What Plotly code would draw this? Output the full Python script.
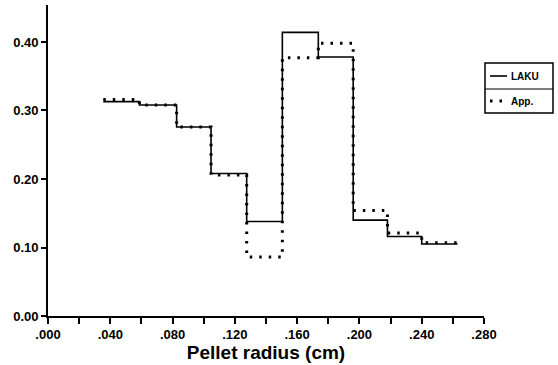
import plotly.graph_objects as go

# Step boundaries (cm) and values
edges = [0.0355, 0.0587, 0.0826, 0.1047, 0.1276, 0.1505, 0.1736, 0.1960, 0.2180, 0.2400, 0.2630]
laku = [0.313, 0.308, 0.276, 0.208, 0.138, 0.414, 0.378, 0.140, 0.116, 0.105]
app = [0.316, 0.308, 0.276, 0.206, 0.086, 0.377, 0.398, 0.154, 0.121, 0.107]

x_tickvals = [0.0, 0.04, 0.08, 0.12, 0.16, 0.20, 0.24, 0.28]
x_ticktext = [".000", ".040", ".080", ".120", ".160", ".200", ".240", ".280"]
y_tickvals = [0.0, 0.1, 0.2, 0.3, 0.4]
y_ticktext = ["0.00", "0.10", "0.20", "0.30", "0.40"]

font_family = "Liberation Sans, Arial, sans-serif"

fig = go.Figure()
fig.add_trace(go.Scatter(
    x=edges, y=laku + [laku[-1]], mode="lines", line_shape="hv",
    line=dict(color="black", width=1.6), name="LAKU", showlegend=False))
fig.add_trace(go.Scatter(
    x=edges, y=app + [app[-1]], mode="lines", line_shape="hv",
    line=dict(color="black", width=3, dash="2.5px,7px"), name="App.", showlegend=False))

# Manual legend box (paper coords)
def px_x(p):
    return (p - 48) / (484 - 48)

def px_y(p):
    return (316 - p) / (316 - 5)

lx0, lx1, ly0, ly1, lyd = px_x(485), px_x(553), px_y(63), px_y(113), px_y(89)
fig.add_shape(type="rect", xref="paper", yref="paper", x0=lx0, x1=lx1, y0=ly1, y1=ly0,
              line=dict(color="black", width=1.5))
fig.add_shape(type="line", xref="paper", yref="paper", x0=lx0, x1=lx1, y0=lyd, y1=lyd,
              line=dict(color="black", width=1))
fig.add_shape(type="line", xref="paper", yref="paper", x0=px_x(490), x1=px_x(507),
              y0=px_y(76), y1=px_y(76), line=dict(color="black", width=1.6))
fig.add_shape(type="line", xref="paper", yref="paper", x0=px_x(490), x1=px_x(505),
              y0=px_y(101), y1=px_y(101), line=dict(color="black", width=3, dash="2.5px,7px"))
fig.add_annotation(xref="paper", yref="paper", x=px_x(509), y=px_y(76), text="LAKU",
                   showarrow=False, xanchor="left", yanchor="middle",
                   font=dict(family=font_family, size=10, color="black", weight="bold"))
fig.add_annotation(xref="paper", yref="paper", x=px_x(509), y=px_y(101), text="App.",
                   showarrow=False, xanchor="left", yanchor="middle",
                   font=dict(family=font_family, size=10, color="black", weight="bold"))

fig.update_layout(
    width=558, height=365,
    margin=dict(l=48, r=74, t=5, b=49),
    paper_bgcolor="white", plot_bgcolor="white",
    showlegend=False,
    font=dict(family=font_family, color="black"),
)
fig.update_xaxes(
    range=[0, 0.28], tickvals=x_tickvals, ticktext=x_ticktext,
    showgrid=False, zeroline=False, showline=True, linecolor="black", linewidth=1.6,
    ticks="outside", ticklen=6, tickwidth=1.5, tickcolor="black",
    minor=dict(dtick=0.02, ticks="outside", ticklen=6, tickwidth=1.5, tickcolor="black", showgrid=False),
    tickfont=dict(family=font_family, size=13, color="black", weight="bold"),
    title=dict(text="Pellet radius (cm)", standoff=2,
               font=dict(family=font_family, size=19, color="black", weight="bold")),
)
fig.update_yaxes(
    range=[0, 0.454], tickvals=y_tickvals, ticktext=y_ticktext,
    showgrid=False, zeroline=False, showline=True, linecolor="black", linewidth=1.6,
    ticks="outside", ticklen=5, tickwidth=1.5, tickcolor="black",
    tickfont=dict(family=font_family, size=13, color="black", weight="bold"),
)

fig.write_html("out.html")
